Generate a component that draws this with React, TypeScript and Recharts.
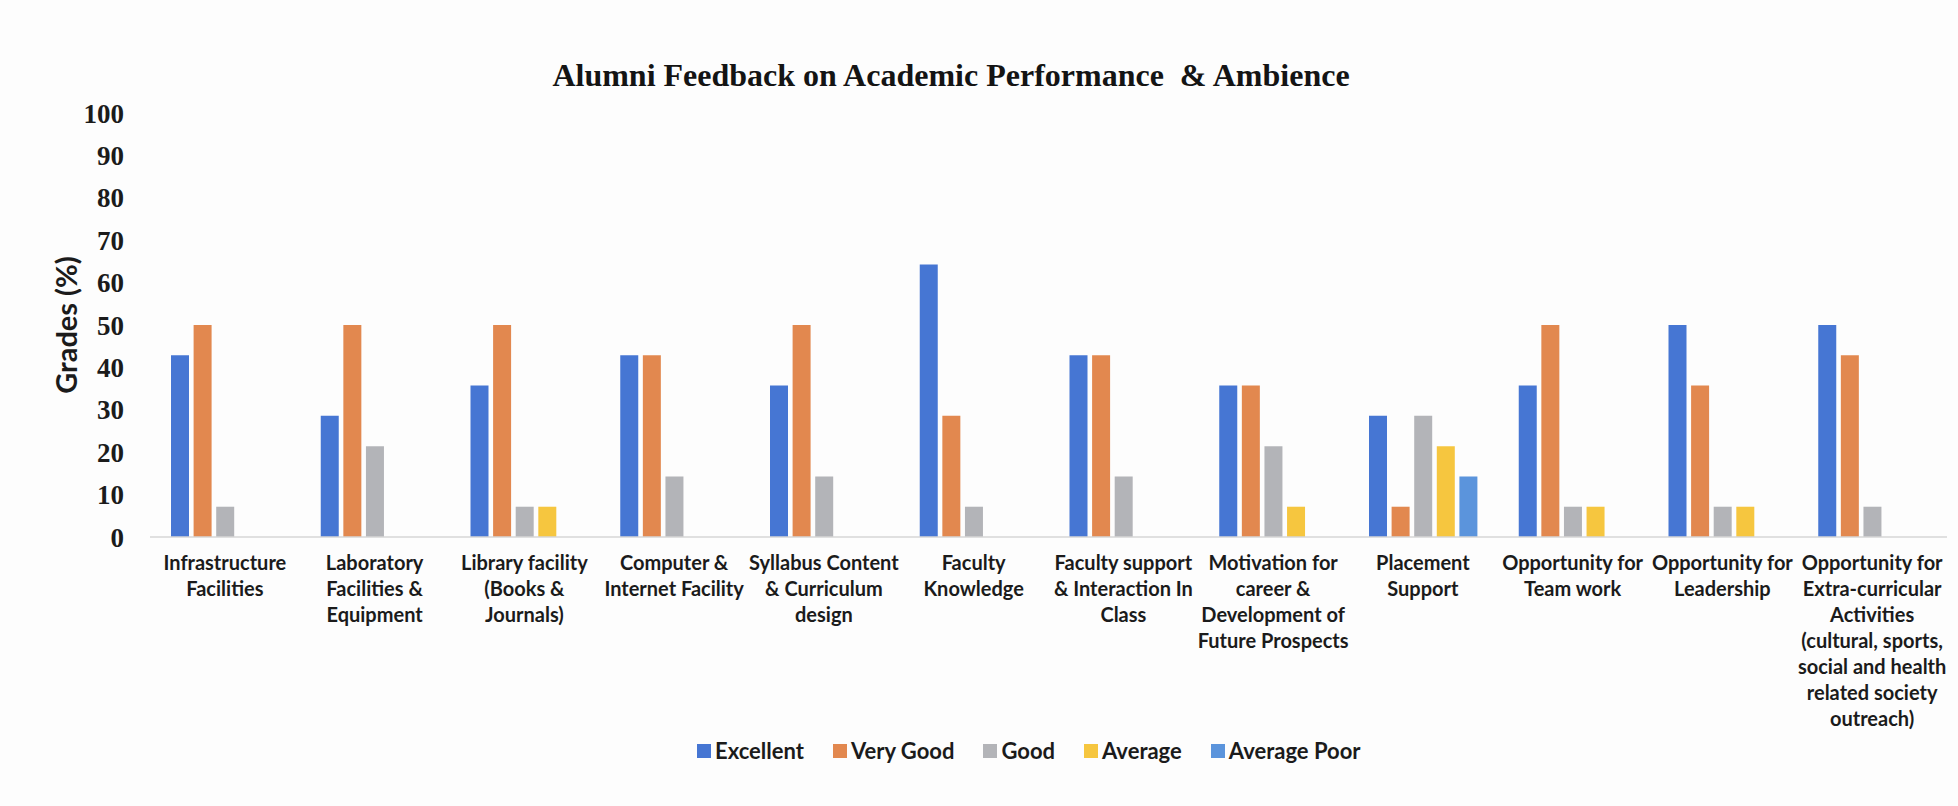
import { BarChart, Bar, XAxis, YAxis } from 'recharts'

const categories = [
  'Infrastructure\nFacilities',
  'Laboratory\nFacilities &\nEquipment',
  'Library facility\n(Books &\nJournals)',
  'Computer &\nInternet Facility',
  'Syllabus Content\n& Curriculum\ndesign',
  'Faculty\nKnowledge',
  'Faculty support\n& Interaction In\nClass',
  'Motivation for\ncareer &\nDevelopment of\nFuture Prospects',
  'Placement\nSupport',
  'Opportunity for\nTeam work',
  'Opportunity for\nLeadership',
  'Opportunity for\nExtra-curricular\nActivities\n(cultural, sports,\nsocial and health\nrelated society\noutreach)',
]

const excellent = [42.86, 28.57, 35.71, 42.86, 35.71, 64.29, 42.86, 35.71, 28.57, 35.71, 50, 50]
const veryGood = [50, 50, 50, 42.86, 50, 28.57, 42.86, 35.71, 7.14, 50, 35.71, 42.86]
const good = [7.14, 21.43, 7.14, 14.29, 14.29, 7.14, 14.29, 21.43, 28.57, 7.14, 7.14, 7.14]
const average = [0, 0, 7.14, 0, 0, 0, 0, 7.14, 21.43, 7.14, 7.14, 0]
const averagePoor = [0, 0, 0, 0, 0, 0, 0, 0, 14.29, 0, 0, 0]

const yTicks = [0, 10, 20, 30, 40, 50, 60, 70, 80, 90, 100]

const series = [
  { key: 'excellent', name: 'Excellent', color: '#4676d3' },
  { key: 'veryGood', name: 'Very Good', color: '#e2884f' },
  { key: 'good', name: 'Good', color: '#b3b4b8' },
  { key: 'average', name: 'Average', color: '#f6c63f' },
  { key: 'averagePoor', name: 'Average Poor', color: '#5b94dc' },
]

const data = categories.map((name, i) => ({
  name,
  excellent: excellent[i],
  veryGood: veryGood[i],
  good: good[i],
  average: average[i],
  averagePoor: averagePoor[i],
}))

const sans = 'Lato, "Open Sans", sans-serif'
const serif = '"Liberation Serif", "Times New Roman", serif'

const CategoryTick = ({ x, y, payload }: any) => {
  const lines = String(payload.value).split('\n')
  return (
    <text x={x} y={y} textAnchor="middle" fill="#1b1b1b" fontFamily={sans} fontWeight={700} fontSize={20}>
      {lines.map((line, i) => (
        <tspan key={i} x={x} dy={i === 0 ? 25 : 26}>
          {line}
        </tspan>
      ))}
    </text>
  )
}

export default function App() {
  return (
    <div
      style={{
        position: 'absolute',
        left: 0,
        top: 0,
        width: 1958,
        height: 806,
        background: '#fdfdfd',
        overflow: 'hidden',
      }}
    >
      <div
        style={{
          position: 'absolute',
          left: 0,
          width: 1902,
          top: 57,
          textAlign: 'center',
          fontFamily: serif,
          fontWeight: 700,
          fontSize: 32,
          color: '#141414',
          whiteSpace: 'pre',
        }}
      >
        {'Alumni Feedback on Academic Performance  & Ambience'}
      </div>

      <BarChart
        width={1958}
        height={806}
        data={data}
        barSize={18}
        barGap={4.6}
        margin={{ top: 113, right: 11, left: 0, bottom: 29 }}
      >
        <XAxis
          dataKey="name"
          interval={0}
          height={240}
          tickLine={false}
          axisLine={{ stroke: '#d6d6d6', strokeWidth: 1.5 }}
          tick={<CategoryTick />}
        />
        <YAxis
          width={150}
          domain={[0, 100]}
          ticks={yTicks}
          interval={0}
          axisLine={false}
          tickLine={false}
          tickMargin={20}
          tick={{ fontSize: 27, fontFamily: serif, fontWeight: 700, fill: '#1b1b1b' }}
          label={{
            value: 'Grades (%)',
            angle: -90,
            position: 'center',
            dx: -8,
            style: { fontFamily: sans, fontWeight: 700, fontSize: 29, fill: '#1b1b1b' },
          }}
        />
        {series.map((s) => (
          <Bar key={s.key} dataKey={s.key} name={s.name} fill={s.color} isAnimationActive={false} />
        ))}
      </BarChart>

      <div
        style={{
          position: 'absolute',
          left: 697,
          top: 737,
          display: 'flex',
          alignItems: 'center',
          fontFamily: sans,
          fontWeight: 700,
          fontSize: 22,
          color: '#1b1b1b',
        }}
      >
        {series.map((s) => (
          <div key={s.key} style={{ display: 'flex', alignItems: 'center', marginRight: 29 }}>
            <span style={{ width: 14, height: 14, background: s.color, marginRight: 4, display: 'inline-block' }} />
            <span>{s.name}</span>
          </div>
        ))}
      </div>
    </div>
  )
}
